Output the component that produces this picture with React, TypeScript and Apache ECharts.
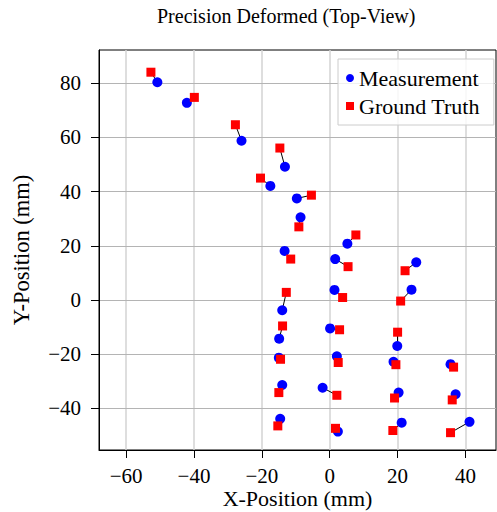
import React, { useEffect, useRef } from "react";
import * as echarts from "echarts";

const measX = [-50.8, -42.1, -26.0, -13.2, -17.5, -9.7, -8.6, -13.3, -14.0, -14.9, -15.0, -14.0, -14.6, 5.2, 1.6, 25.5, 1.4, 24.1, 0.1, 19.9, 2.1, 18.8, 35.6, -2.1, 20.3, 37.1, 2.4, 21.2, 41.2];
const measY = [80.4, 72.8, 58.8, 49.2, 42.1, 37.5, 30.5, 18.1, -3.8, -14.3, -21.3, -31.4, -43.9, 20.8, 15.1, 13.9, 3.7, 3.8, -10.5, -17.0, -20.8, -22.8, -23.7, -32.4, -34.2, -34.8, -48.6, -45.3, -45.0];
const gtX = [-52.7, -39.9, -27.8, -14.7, -20.4, -5.4, -9.1, -11.5, -12.8, -13.9, -14.5, -15.0, -15.3, 7.7, 5.4, 22.2, 3.8, 20.9, 2.9, 20.0, 2.5, 19.5, 36.5, 2.1, 19.1, 36.1, 1.7, 18.6, 35.6];
const gtY = [84.1, 74.8, 64.7, 56.1, 45.0, 38.7, 27.0, 15.1, 2.8, -9.6, -21.9, -34.2, -46.5, 24.0, 12.3, 10.8, 0.9, -0.4, -11.0, -11.9, -23.1, -23.9, -24.8, -35.2, -36.2, -36.9, -47.4, -48.2, -49.0];

const xTicks = [-60, -40, -20, 0, 20, 40];
const yTicks = [-40, -20, 0, 20, 40, 60, 80];

const FONT = "Liberation Serif";
const fmt = (v: number) => (v < 0 ? "\u2212" + Math.abs(v) : String(v));

export default function App() {
  const ref = useRef<HTMLDivElement>(null);
  useEffect(() => {
    if (!ref.current) return;
    const chart = echarts.init(ref.current, undefined, { renderer: "svg" });
    const meas = measX.map((x, i) => [x, measY[i]]);
    const gt = gtX.map((x, i) => [x, gtY[i]]);
    const links = meas.map((m, i) => ({ coords: [m, gt[i]] }));
    const gridLines = [
      ...xTicks.map((v) => ({ xAxis: v, lineStyle: { color: "#d3d3d3", width: 1.5, type: "solid" } })),
      ...yTicks.map((v) => ({ yAxis: v, lineStyle: { color: "#b4b4b4", width: 1, type: "solid" } })),
    ];
    chart.setOption({
      animation: false,
      backgroundColor: "#ffffff",
      textStyle: { fontFamily: FONT },
      title: {
        text: "Precision Deformed (Top-View)",
        left: 157,
        top: 6,
        padding: 0,
        textStyle: { fontFamily: FONT, fontSize: 20, fontWeight: "normal", color: "#000" },
      },
      grid: {
        left: 99,
        right: 1,
        top: 50,
        bottom: 62,
        containLabel: false,
        outerBoundsMode: "none",
        show: true,
        borderColor: "#000",
        borderWidth: 1,
        backgroundColor: "transparent",
      },
      legend: {
        orient: "vertical",
        left: 338,
        top: 59,
        padding: [8, 14, 8, 8],
        itemGap: 6,
        itemWidth: 8,
        itemHeight: 8,
        borderColor: "#cccccc",
        borderWidth: 1,
        backgroundColor: "rgba(255,255,255,0.8)",
        textStyle: { fontFamily: FONT, fontSize: 22, color: "#000" },
        data: [
          { name: "Measurement", icon: "circle" },
          { name: "Ground Truth", icon: "rect" },
        ],
      },
      xAxis: {
        type: "value",
        min: -68,
        max: 49,
        name: "X-Position (mm)",
        nameLocation: "middle",
        nameGap: 37,
        nameMoveOverlap: false,
        nameTextStyle: { fontFamily: FONT, fontSize: 22, color: "#000" },
        axisLine: { show: true, onZero: false, lineStyle: { color: "#000", width: 1 } },
        axisTick: { show: true, length: 8, customValues: xTicks, lineStyle: { color: "#000" } },
        axisLabel: {
          customValues: xTicks,
          margin: 15,
          fontFamily: FONT,
          fontSize: 21,
          color: "#000",
          formatter: (v: number) => fmt(v),
        },
        splitLine: { show: false },
      },
      yAxis: {
        type: "value",
        min: -55.4,
        max: 92.3,
        name: "Y-Position (mm)",
        nameLocation: "middle",
        nameGap: 66,
        nameTextStyle: { fontFamily: FONT, fontSize: 22.5, color: "#000" },
        axisLine: { show: true, onZero: false, lineStyle: { color: "#000", width: 1 } },
        axisTick: { show: true, length: 8, customValues: yTicks, lineStyle: { color: "#000" } },
        axisLabel: {
          customValues: yTicks,
          margin: 18,
          fontFamily: FONT,
          fontSize: 21,
          color: "#000",
          formatter: (v: number) => fmt(v),
        },
        splitLine: { show: false },
      },
      series: [
        {
          type: "lines",
          coordinateSystem: "cartesian2d",
          silent: true,
          lineStyle: { color: "#000", width: 1, opacity: 1 },
          data: links,
          z: 1,
          markLine: {
            silent: true,
            symbol: ["none", "none"],
            label: { show: false },
            emphasis: { disabled: true },
            data: gridLines,
            z: 0,
          },
        },
        {
          name: "Measurement",
          type: "scatter",
          symbol: "circle",
          symbolSize: 10,
          itemStyle: { color: "#0000ff", opacity: 1 },
          data: meas,
          z: 2,
        },
        {
          name: "Ground Truth",
          type: "scatter",
          symbol: "rect",
          symbolSize: 9,
          itemStyle: { color: "#ff0000", opacity: 1 },
          data: gt,
          z: 3,
        },
      ],
    });
    return () => chart.dispose();
  }, []);
  return <div ref={ref} style={{ width: 497, height: 512, position: "absolute", left: 0, top: 0 }} />;
}
